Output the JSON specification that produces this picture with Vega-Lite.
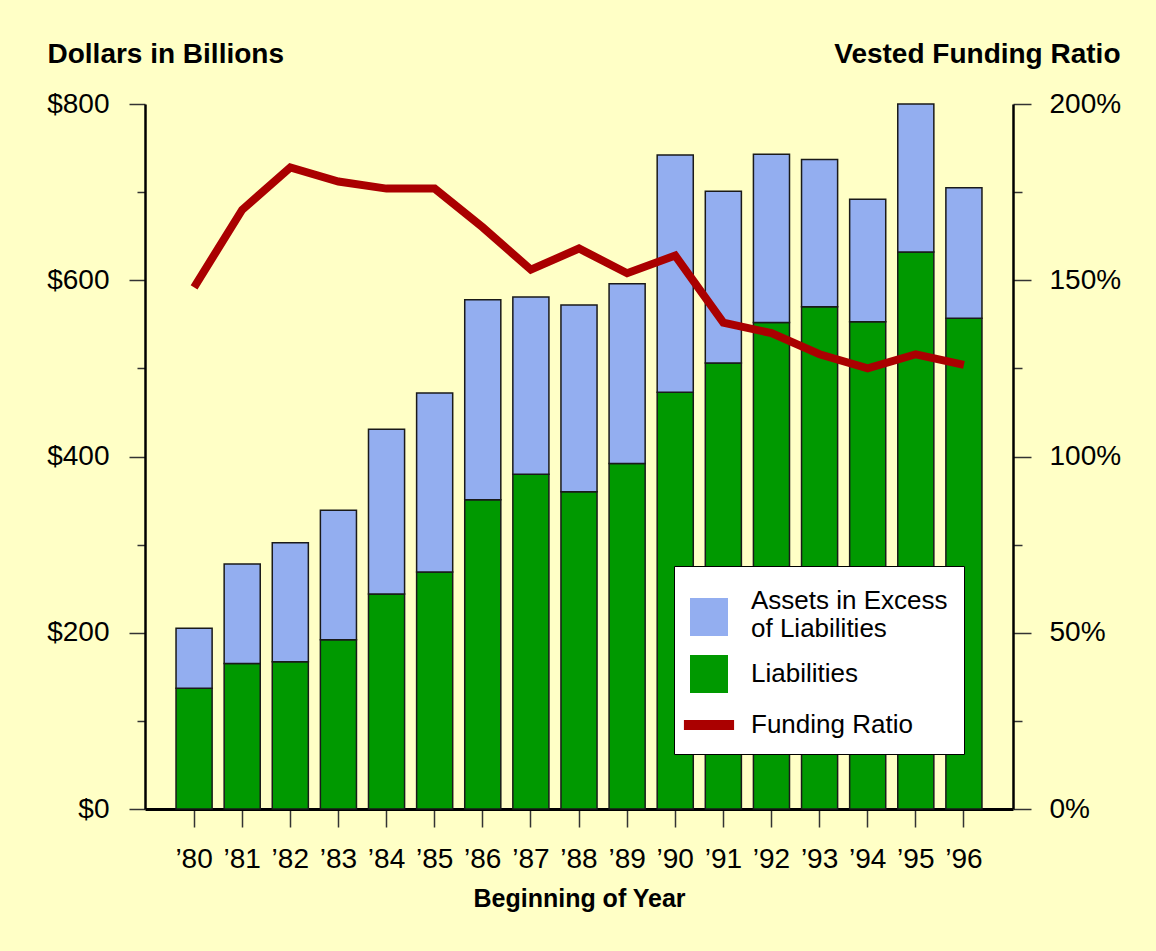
{
  "$schema": "https://vega.github.io/schema/vega-lite/v6.json",
  "width": 868,
  "height": 705,
  "autosize": {"type": "none"},
  "padding": {"left": 145, "top": 104, "right": 143, "bottom": 142},
  "background": "#ffffc6",
  "config": {
    "view": {"stroke": null},
    "font": "Liberation Sans",
    "axis": {"grid": false, "domainColor": "black", "tickColor": "#333333", "labelColor": "black", "titleColor": "black", "labelFontSize": 28, "labelFont": "Liberation Sans", "titleFont": "Liberation Sans"}
  },
  "data": {
    "values": [
      {"year": "’80", "Liabilities": 137, "Excess": 68, "ratio": 148},
      {"year": "’81", "Liabilities": 165, "Excess": 113, "ratio": 170},
      {"year": "’82", "Liabilities": 167, "Excess": 135, "ratio": 182},
      {"year": "’83", "Liabilities": 192, "Excess": 147, "ratio": 178},
      {"year": "’84", "Liabilities": 244, "Excess": 187, "ratio": 176},
      {"year": "’85", "Liabilities": 269, "Excess": 203, "ratio": 176},
      {"year": "’86", "Liabilities": 351, "Excess": 227, "ratio": 165},
      {"year": "’87", "Liabilities": 380, "Excess": 201, "ratio": 153},
      {"year": "’88", "Liabilities": 360, "Excess": 212, "ratio": 159},
      {"year": "’89", "Liabilities": 392, "Excess": 204, "ratio": 152},
      {"year": "’90", "Liabilities": 473, "Excess": 269, "ratio": 157},
      {"year": "’91", "Liabilities": 506, "Excess": 195, "ratio": 138},
      {"year": "’92", "Liabilities": 552, "Excess": 191, "ratio": 135},
      {"year": "’93", "Liabilities": 570, "Excess": 167, "ratio": 129},
      {"year": "’94", "Liabilities": 553, "Excess": 139, "ratio": 125},
      {"year": "’95", "Liabilities": 632, "Excess": 168, "ratio": 129},
      {"year": "’96", "Liabilities": 557, "Excess": 148, "ratio": 126}
    ]
  },
  "layer": [
    {
      "transform": [{"fold": ["Liabilities", "Excess"], "as": ["series", "value"]}],
      "mark": {"type": "bar", "stroke": "#1a1a1a", "strokeWidth": 1.5},
      "encoding": {
        "x": {
          "field": "year", "type": "ordinal", "sort": null,
          "scale": {"paddingInner": 0.25, "paddingOuter": 0.645},
          "axis": {
            "title": "Beginning of Year", "titleFontSize": 25, "titleFontWeight": "bold",
            "labelAngle": 0, "tickSize": 18, "tickWidth": 1.5, "domainWidth": 3,
            "labelPadding": 18, "titlePadding": 13
          }
        },
        "y": {
          "field": "value", "type": "quantitative", "stack": "zero",
          "scale": {"domain": [0, 800]},
          "axis": {
            "values": [0, 100, 200, 300, 400, 500, 600, 700, 800],
            "labelExpr": "datum.value % 200 === 0 ? '$' + datum.value : ''",
            "tickSize": {"condition": {"test": "datum.value % 200 === 0", "value": 16}, "value": 8},
            "tickWidth": 1.5, "domainWidth": 2.5, "labelPadding": 20,
            "title": "Dollars in Billions", "titleAngle": 0, "titleX": -98, "titleY": -42,
            "titleAlign": "left", "titleBaseline": "alphabetic", "titleFontSize": 28, "titleFontWeight": "bold"
          }
        },
        "color": {
          "field": "series", "type": "nominal",
          "scale": {"domain": ["Excess", "Liabilities", "Funding Ratio"], "range": ["#93aef0", "#009900", "#aa0000"]},
          "legend": {
            "orient": "none", "legendX": 529, "legendY": 462, "title": null,
            "fillColor": "white", "strokeColor": "black", "padding": 16,
            "symbolSize": 1444, "symbolStrokeWidth": 0, "symbolOpacity": 1,
            "labelFontSize": 26, "labelOffset": 23, "labelLimit": 400, "rowPadding": 13, "labelColor": "black",
            "labelExpr": "datum.value === 'Excess' ? ['Assets in Excess', 'of Liabilities'] : datum.value"
          }
        },
        "order": {"field": "series", "sort": "descending"}
      }
    },
    {
      "transform": [{"fold": ["Liabilities", "Excess"], "as": ["series", "value"]}],
      "mark": {"type": "point", "filled": true, "opacity": 0},
      "encoding": {
        "color": {
          "field": "series", "type": "nominal",
          "legend": {
            "orient": "none", "legendX": 529, "legendY": 462, "title": null,
            "fillColor": "white", "strokeColor": "black", "padding": 16,
            "symbolSize": 1444, "symbolStrokeWidth": 0, "symbolOpacity": 1,
            "labelFontSize": 26, "labelOffset": 23, "labelLimit": 400, "rowPadding": 13, "labelColor": "black",
            "labelExpr": "datum.value === 'Excess' ? ['Assets in Excess', 'of Liabilities'] : datum.value"
          }
        },
        "shape": {
          "field": "series", "type": "nominal",
          "scale": {"domain": ["Excess", "Liabilities", "Funding Ratio"], "range": ["M-1,-0.16L1,-0.16L1,1.84L-1,1.84Z", "square", "M-1.32,-0.26L1.32,-0.26L1.32,0.26L-1.32,0.26Z"]},
          "legend": {
            "orient": "none", "legendX": 529, "legendY": 462, "title": null,
            "fillColor": "white", "strokeColor": "black", "padding": 16,
            "symbolSize": 1444, "symbolStrokeWidth": 0, "symbolOpacity": 1,
            "labelFontSize": 26, "labelOffset": 23, "labelLimit": 400, "rowPadding": 13, "labelColor": "black",
            "labelExpr": "datum.value === 'Excess' ? ['Assets in Excess', 'of Liabilities'] : datum.value"
          }
        }
      }
    },
    {
      "mark": {"type": "line", "color": "#aa0000", "strokeWidth": 8, "strokeJoin": "miter"},
      "encoding": {
        "x": {"field": "year", "type": "ordinal", "sort": null},
        "y": {
          "field": "ratio", "type": "quantitative", "scale": {"domain": [0, 200]},
          "axis": {
            "orient": "right",
            "values": [0, 25, 50, 75, 100, 125, 150, 175, 200],
            "labelExpr": "datum.value % 50 === 0 ? datum.value + '%' : ''",
            "tickSize": {"condition": {"test": "datum.value % 50 === 0", "value": 18}, "value": 9},
            "tickWidth": 1.5, "domainWidth": 2.5, "labelPadding": 18,
            "title": "Vested Funding Ratio", "titleAngle": 0, "titleX": 107, "titleY": -42,
            "titleAlign": "right", "titleBaseline": "alphabetic", "titleFontSize": 28, "titleFontWeight": "bold"
          }
        }
      }
    }
  ],
  "resolve": {"scale": {"y": "independent"}}
}
